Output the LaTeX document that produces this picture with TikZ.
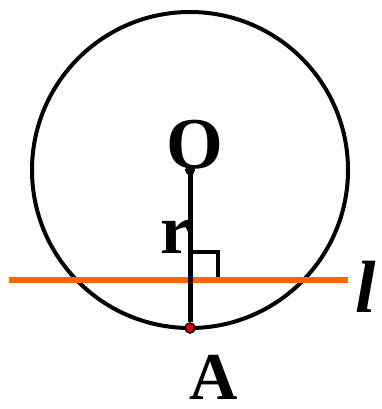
\documentclass[tikz,border=0pt]{standalone}
\usepackage{fontspec}
\setmainfont{Liberation Serif}[BoldFont={Liberation Serif Bold},ItalicFont={Liberation Serif Italic},BoldItalicFont={Liberation Serif Bold Italic}]
\definecolor{lineorange}{RGB}{255,102,0}
\begin{document}
\begin{tikzpicture}[x=1pt,y=-1pt,
  lbl/.style={inner sep=0pt,anchor=base,font=\fontsize{70}{70}\selectfont\bfseries},
  dotO/.style={circle,fill=black,inner sep=0pt,minimum size=10pt},
  dotA/.style={circle,fill=red!85!black,draw=black,line width=1.5pt,inner sep=0pt,minimum size=10pt}]
\useasboundingbox (0,0) rectangle (381,409);
\coordinate (C) at (190,170);
\draw[line width=4pt] (C) circle (158);
\coordinate (L1) at (9,280);
\coordinate (L2) at (348,280);
\coordinate (Q1) at (218,280);
\coordinate (Q2) at (218,252);
\coordinate (Q3) at (190,252);
\draw[line width=4pt] (Q3) -- (Q2) -- (Q1);
\draw[line width=6pt,lineorange] (L1) -- (L2);
\node[dotA] (A) at (190,328) {};
\draw[line width=5pt] (C) -- (A.north);
\node[dotO] (O) at (C) {};
\node[lbl,font=\fontsize{73}{73}\selectfont\bfseries] (Olab) at (195,168) {O};
\node[lbl] (rlab) at (176,253) {r};
\node[lbl,font=\fontsize{67}{67}\selectfont\bfseries] (Alab) at (214,399) {A};
\node[inner sep=0pt,anchor=base,font=\fontsize{74}{74}\selectfont\bfseries\itshape] (llab) at (366,312) {l};
\end{tikzpicture}
\end{document}
